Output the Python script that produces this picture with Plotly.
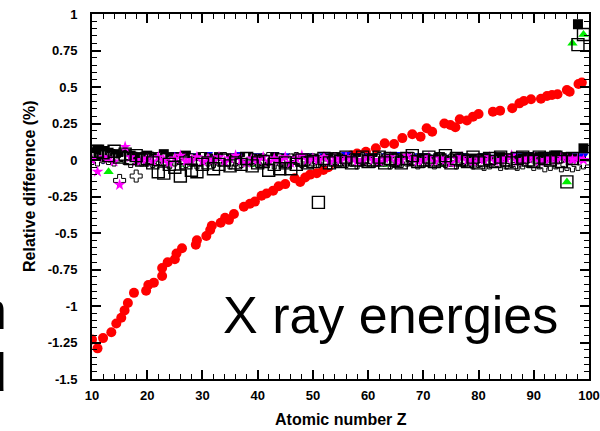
import plotly.graph_objects as go

# ---------------- data ----------------
Z = list(range(10, 100))

# red circles (Z, relative difference %)
red_z = [10, 11, 12, 13.5, 14.4, 15.3, 15.9, 16.5, 17.6, 19.8, 20.2, 21.2, 22.7, 22.7, 23.7, 25, 25.3,
         26.3, 28.8, 29, 30.7, 31.4, 31.7, 33.3, 34.1, 34.8, 35.7, 37.5, 38.6, 39.5, 40.7, 41.6, 42.8,
         43.8, 45, 46.7, 47.7, 48.6, 49.5, 50.7, 51.9, 52.8, 54.3, 55.5, 57, 58, 59.6, 61.4, 63, 64.7,
         66.2, 68, 69.5, 70.6, 71.6, 73.8, 74.9, 75.8, 76.6, 77.9, 79, 80, 82.6, 83.9, 86.1, 87.4, 88.2,
         89.5, 91.3, 92.4, 93.3, 94.3, 96, 96.5, 98.1, 98.7]
red_v = [-1.23, -1.29, -1.22, -1.18, -1.12, -1.08, -1.03, -0.98, -0.91, -0.895, -0.856, -0.84, -0.795,
         -0.74, -0.70, -0.68, -0.64, -0.605, -0.58, -0.55, -0.52, -0.48, -0.45, -0.43, -0.395, -0.41,
         -0.37, -0.32, -0.30, -0.285, -0.245, -0.23, -0.21, -0.18, -0.165, -0.125, -0.15, -0.12, -0.10,
         -0.09, -0.068, -0.05, -0.01, 0.00, 0.03, 0.045, 0.057, 0.08, 0.114, 0.11, 0.15, 0.176, 0.16,
         0.217, 0.194, 0.25, 0.24, 0.224, 0.279, 0.27, 0.297, 0.315, 0.33, 0.338, 0.354, 0.388, 0.404,
         0.416, 0.42, 0.438, 0.445, 0.45, 0.48, 0.468, 0.52, 0.53]

black_sq = [0.05, 0.07, 0.06, 0.05, 0.04, 0.02, 0.04, 0.03, 0.01, 0.02,
            0.03, 0.01, 0.02, 0.04, 0.02, 0.00, 0.02, 0.03, 0.01, -0.01,
            0.02, 0.01, 0.00, 0.02, 0.01, -0.01, 0.01, 0.00, 0.02, 0.00,
            0.01, -0.01, 0.00, 0.02, 0.01, -0.02, 0.00, 0.01, -0.01, 0.00,
            0.01, 0.00, -0.01, 0.01, 0.02, 0.00, -0.01, 0.00, 0.01, -0.01,
            0.00, 0.01, -0.01, 0.00, 0.01, -0.02, 0.00, 0.01, -0.01, 0.00,
            0.01, -0.01, 0.00, 0.02, 0.00, -0.01, 0.01, 0.00, -0.02, 0.01,
            0.00, 0.01, -0.01, 0.00, 0.02, 0.01, -0.01, 0.00, 0.01, 0.02,
            0.01, 0.02, 0.00, 0.01, 0.03, 0.01, 0.02, 0.01, 0.93, 0.08]

open_sq = [0.04, 0.06, 0.05, 0.03, 0.06, 0.02, 0.04, 0.01, 0.03, 0.00,
           0.01, -0.02, -0.08, -0.09, -0.03, -0.05, -0.11, -0.02, -0.07, -0.08,
           -0.03, -0.02, -0.06, -0.03, 0.00, -0.04, -0.02, -0.03, 0.01, -0.04,
           -0.02, -0.01, -0.07, -0.03, -0.06, -0.02, -0.06, -0.03, 0.00, -0.02,
           -0.01, -0.29, 0.01, -0.02, 0.00, -0.01, 0.02, -0.02, 0.00, 0.02,
           -0.01, 0.00, 0.02, -0.02, 0.01, 0.00, -0.02, 0.01, 0.03, -0.01,
           0.00, 0.02, -0.01, 0.00, 0.03, -0.02, 0.01, 0.00, -0.01, 0.02,
           -0.02, 0.00, 0.01, -0.01, 0.02, 0.00, -0.02, 0.01, 0.02, 0.00,
           -0.01, 0.02, 0.01, 0.00, 0.02, -0.01, -0.15, 0.01, 0.79, 0.86]

green_tri = [0.02, 0.03, 0.01, -0.08, 0.02, 0.00, 0.03, -0.01, 0.01, 0.02,
             -0.01, 0.01, 0.00, -0.02, 0.01, -0.01, 0.00, -0.03, 0.01, -0.02,
             0.00, -0.01, -0.02, 0.01, -0.01, 0.00, -0.02, -0.01, 0.00, -0.03,
             -0.01, 0.00, -0.02, -0.01, 0.01, -0.02, -0.01, 0.00, -0.03, -0.01,
             0.00, -0.02, -0.01, 0.01, -0.02, 0.00, -0.01, -0.02, 0.01, -0.01,
             -0.02, 0.00, -0.01, -0.03, 0.00, -0.01, 0.01, -0.02, -0.01, 0.00,
             -0.01, -0.02, 0.00, -0.01, -0.03, 0.00, -0.01, 0.01, -0.02, -0.01,
             0.00, -0.02, -0.01, 0.01, -0.01, 0.00, 0.02, -0.01, 0.01, 0.02,
             0.00, 0.02, 0.03, 0.01, 0.02, 0.01, -0.15, 0.80, 0.01, 0.86]

blue_tri = [0.01, 0.02, 0.00, 0.01, 0.03, -0.15, 0.02, 0.01, 0.00, 0.02,
            0.03, 0.02, 0.01, 0.03, 0.02, 0.04, 0.01, 0.02, 0.03, 0.01,
            0.02, 0.04, 0.01, 0.03, 0.02, 0.01, 0.03, 0.04, 0.02, 0.01,
            0.03, 0.02, 0.01, 0.04, 0.02, 0.03, 0.01, 0.02, 0.01, 0.03,
            0.02, 0.01, 0.03, 0.02, 0.01, 0.02, 0.04, 0.01, 0.02, 0.03,
            0.01, 0.02, 0.03, 0.01, 0.02, 0.04, 0.02, 0.01, 0.03, 0.02,
            0.03, 0.01, 0.02, 0.03, 0.01, 0.02, 0.01, 0.03, 0.02, 0.01,
            0.02, 0.03, 0.01, 0.02, 0.03, 0.02, 0.01, 0.03, 0.02, 0.04,
            0.03, 0.02, 0.04, 0.02, 0.03, 0.01, 0.02, 0.03, 0.02, 0.03]

magenta_star = [0.00, -0.08, 0.02, 0.01, -0.01, -0.17, 0.09, 0.02, -0.01, 0.00,
                0.01, -0.01, 0.02, 0.00, -0.02, 0.01, 0.03, -0.01, 0.00, 0.02,
                -0.01, 0.01, 0.00, 0.02, -0.01, 0.01, 0.03, 0.00, -0.02, 0.01,
                0.00, 0.02, -0.01, 0.01, 0.00, 0.02, -0.02, 0.01, 0.03, 0.00,
                0.01, 0.00, 0.02, -0.01, 0.01, 0.00, 0.02, 0.01, -0.01, 0.00,
                0.02, 0.00, -0.01, 0.01, 0.02, -0.01, 0.00, 0.03, 0.01, -0.01,
                0.00, 0.02, -0.01, 0.01, 0.00, -0.02, 0.01, 0.02, 0.00, -0.01,
                0.01, 0.00, 0.02, -0.01, 0.00, 0.01, 0.03, -0.01, 0.00, 0.01,
                0.02, -0.01, 0.00, 0.01, 0.00, 0.02, 0.01, 0.00, 0.01, 0.00]

open_cross = [0.01, 0.00, 0.02, 0.01, 0.00, -0.14, 0.01, -0.01, -0.11, 0.00,
              0.00, -0.01, 0.01, 0.00, -0.02, 0.00, 0.01, -0.01, 0.00, -0.02,
              0.01, 0.00, -0.01, 0.00, 0.01, -0.02, 0.00, -0.01, 0.01, 0.00,
              -0.01, 0.00, 0.01, -0.02, 0.00, -0.01, 0.00, 0.01, -0.01, 0.00,
              0.00, -0.01, 0.00, -0.02, 0.01, 0.00, -0.01, 0.00, -0.02, 0.01,
              0.00, -0.01, 0.01, 0.00, -0.02, 0.00, -0.01, 0.00, 0.01, -0.02,
              -0.01, 0.00, -0.02, 0.01, -0.01, 0.00, -0.02, 0.00, -0.01, -0.02,
              -0.01, -0.03, -0.02, -0.01, -0.03, -0.02, -0.01, -0.03, -0.02, -0.01,
              -0.03, -0.02, -0.04, -0.03, -0.02, -0.04, -0.03, -0.04, -0.03, -0.02]

x_ticks = [10, 20, 30, 40, 50, 60, 70, 80, 90, 100]
x_ticktext = ["10", "20", "30", "40", "50", "60", "70", "80", "90", "100"]
y_ticks = [1, 0.75, 0.5, 0.25, 0, -0.25, -0.5, -0.75, -1, -1.25, -1.5]
y_ticktext = ["1", "0.75", "0.5", "0.25", "0", "-0.25", "-0.5", "-0.75", "-1", "-1.25", "-1.5"]

# ---------------- figure ----------------
FONT = "Liberation Sans, Arial, Helvetica, sans-serif"
fig = go.Figure()

fig.add_trace(go.Scatter(x=red_z, y=red_v, mode="markers",
                         marker=dict(symbol="circle", size=10, color="#ff0000", line=dict(width=0))))
fig.add_trace(go.Scatter(x=Z, y=green_tri, mode="markers",
                         marker=dict(symbol="triangle-up", size=9, color="#00ee00", line=dict(width=0))))
fig.add_trace(go.Scatter(x=Z, y=blue_tri, mode="markers",
                         marker=dict(symbol="triangle-down", size=9, color="#0000ff", line=dict(width=0))))
fig.add_trace(go.Scatter(x=Z, y=black_sq, mode="markers",
                         marker=dict(symbol="square", size=10, color="black", line=dict(width=0))))
fig.add_trace(go.Scatter(x=Z, y=open_cross, mode="markers",
                         marker=dict(symbol="cross", size=10, color="white", line=dict(width=1, color="black"))))
fig.add_trace(go.Scatter(x=Z, y=magenta_star, mode="markers",
                         marker=dict(symbol="star", size=9, color="#ff00ff", line=dict(width=0))))
fig.add_trace(go.Scatter(x=Z, y=open_sq, mode="markers",
                         marker=dict(symbol="square-open", size=12, color="black", line=dict(width=1.4))))

axis_common = dict(showgrid=False, zeroline=False, showline=True, linecolor="black", linewidth=2,
                   mirror="ticks", ticks="inside", ticklen=9, tickwidth=1.5, tickcolor="black",
                   automargin=False,
                   tickfont=dict(family=FONT, size=13, color="black", weight="bold"))

fig.update_xaxes(range=[10, 100], tickvals=x_ticks, ticktext=x_ticktext, ticklabelstandoff=3,
                 minor=dict(dtick=2, tick0=10, ticks="inside", ticklen=5, tickwidth=1.2, tickcolor="black"),
                 **axis_common)
fig.update_yaxes(range=[-1.5, 1], tickvals=y_ticks, ticktext=y_ticktext, ticklabelstandoff=10,
                 minor=dict(dtick=0.05, tick0=0, ticks="inside", ticklen=5, tickwidth=1.2, tickcolor="black"),
                 **axis_common)

annotations = [
    dict(text="Relative difference (%)", xref="paper", yref="paper", x=-0.1247, y=0.529,
         textangle=-90, showarrow=False, xanchor="center", yanchor="middle",
         font=dict(family=FONT, size=16, color="black", weight="bold")),
    dict(text="Atomic number Z", xref="paper", yref="paper", x=0.5, y=-0.112,
         showarrow=False, xanchor="center", yanchor="middle",
         font=dict(family=FONT, size=16, color="black", weight="bold")),
    dict(text="X ray energies", xref="paper", yref="paper", x=0.6, y=0.175,
         showarrow=False, xanchor="center", yanchor="middle",
         font=dict(family=FONT, size=52, color="black")),
    dict(text="n", xref="paper", yref="paper", x=-0.166, y=0.19,
         showarrow=False, xanchor="right", yanchor="middle",
         font=dict(family=FONT, size=54, color="black")),
    dict(text="d", xref="paper", yref="paper", x=-0.166, y=0.02,
         showarrow=False, xanchor="right", yanchor="middle",
         font=dict(family=FONT, size=54, color="black")),
]

fig.update_layout(width=600, height=431, margin=dict(l=92, r=11, t=14, b=52),
                  plot_bgcolor="white", paper_bgcolor="white", showlegend=False,
                  annotations=annotations)

fig.write_html("out.html", config={"displayModeBar": False},
               post_script="document.body.style.margin='0';document.body.style.padding='0';")
